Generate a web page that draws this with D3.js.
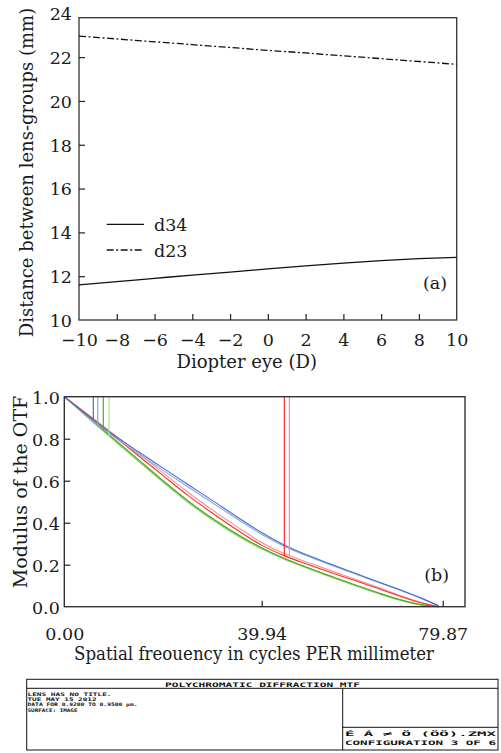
<!DOCTYPE html>
<html>
<head>
<meta charset="utf-8">
<script src="https://cdn.jsdelivr.net/npm/d3@7"></script>
<style>
  html, body { margin: 0; padding: 0; background: #fff; }
  svg { display: block; }
</style>
</head>
<body>
<svg id="chart" width="501" height="753"></svg>
<script>
// ---------------- DATA ----------------
// Panel (a)
const diopter = [-10, -8, -6, -4, -2, 0, 2, 4, 6, 8, 10];
const d34 = [11.60, 11.75, 11.90, 12.05, 12.19, 12.33, 12.47, 12.60, 12.71, 12.80, 12.86];
const d23 = [22.96, 22.83, 22.70, 22.57, 22.44, 22.31, 22.19, 22.06, 21.93, 21.80, 21.67];
const yTicksA = [10, 12, 14, 16, 18, 20, 22, 24];
const xTicksA = [-10, -8, -6, -4, -2, 0, 2, 4, 6, 8, 10];
const legendA = ["d34", "d23"];

// Panel (b) - MTF curves
const freq = [0, 5, 10, 15, 20, 25, 30, 35, 40, 45, 50, 55, 60, 65, 70, 75, 79];
const mtfBlue      = [1.0, 0.905, 0.818, 0.738, 0.660, 0.582, 0.505, 0.427, 0.352, 0.293, 0.246, 0.204, 0.164, 0.124, 0.084, 0.042, 0.004];
const mtfBlueLight = [1.0, 0.900, 0.810, 0.728, 0.649, 0.571, 0.494, 0.418, 0.344, 0.287, 0.241, 0.200, 0.160, 0.121, 0.082, 0.041, 0.004];
const mtfRed       = [1.0, 0.908, 0.814, 0.719, 0.624, 0.530, 0.445, 0.365, 0.292, 0.242, 0.202, 0.164, 0.128, 0.091, 0.053, 0.019, 0.0];
const mtfPink      = [1.0, 0.912, 0.822, 0.730, 0.637, 0.545, 0.460, 0.380, 0.305, 0.252, 0.212, 0.173, 0.135, 0.097, 0.057, 0.021, 0.0];
const mtfGreen     = [1.0, 0.900, 0.800, 0.700, 0.600, 0.505, 0.420, 0.345, 0.280, 0.230, 0.187, 0.147, 0.108, 0.071, 0.036, 0.010, 0.0];
const mtfGreenMid  = [1.0, 0.897, 0.796, 0.696, 0.596, 0.501, 0.416, 0.341, 0.277, 0.228, 0.185, 0.145, 0.106, 0.069, 0.035, 0.009, 0.0];
const mtfGreenLight= [1.0, 0.894, 0.792, 0.691, 0.591, 0.496, 0.411, 0.337, 0.273, 0.224, 0.182, 0.142, 0.104, 0.067, 0.033, 0.008, 0.0];
const seriesColors = ["#3f6fd0", "#8aa6e0", "#ff2a2a", "#f59090", "#4aac25", "#7cc850", "#b2e098"];
// vertical markers: frequency, index of series
const markerFreq   = [5.87, 6.76, 7.89, 9.04, 44.93, 46.04];
const markerSeries = [0, 1, 4, 6, 2, 3];
const xTickValsB = [0, 39.94, 79.87];
const xTickLabB  = ["0.00", "39.94", "79.87"];
const yTicksB = [0, 0.2, 0.4, 0.6, 0.8, 1.0];

// Footer table text
const headerText = "POLYCHROMATIC DIFFRACTION MTF";
const leftLines = ["LENS HAS NO TITLE.", "TUE MAY 15 2012", "DATA FOR 0.9200 TO 0.9500 \u00b5m.", "SURFACE: IMAGE"];
const rightLines = ["\u00c9    \u00c1 \u2260 \u00d6 (\u00d6\u00d6).ZMX", "CONFIGURATION 3 OF 6"];

// ---------------- DRAW ----------------
const svg = d3.select("#chart");
const serif = "'DejaVu Serif', 'Liberation Serif', serif";
const mono = "'DejaVu Sans Mono', 'Liberation Mono', monospace";
svg.append("rect").attr("width", 501).attr("height", 753).attr("fill", "#fff");

// ===== Panel (a) =====
const xA = d3.scaleLinear().domain([-10, 10]).range([79, 456.7]);
const yA = d3.scaleLinear().domain([10, 23.8]).range([320, 17.7]);
const gA = svg.append("g");

gA.append("rect")
  .attr("x", xA(-10)).attr("y", yA(23.8))
  .attr("width", xA(10) - xA(-10)).attr("height", yA(10) - yA(23.8))
  .attr("fill", "none").attr("stroke", "#333").attr("stroke-width", 1.3);

const axAy = gA.append("g").attr("transform", `translate(${xA(-10)},0)`)
  .call(d3.axisLeft(yA).tickValues(yTicksA).tickSize(-6).tickPadding(7).tickFormat(d3.format("d")));
axAy.select(".domain").remove();
axAy.selectAll(".tick line").attr("stroke", "#222").attr("stroke-width", 1.2)
  .filter(d => d === 24 || d === 10).remove();
axAy.selectAll("text").attr("font-family", serif).attr("font-size", 17.5).attr("fill", "#1a1a1a").attr("dy", "0.36em");

const axAx = gA.append("g").attr("transform", `translate(0,${yA(10)})`)
  .call(d3.axisBottom(xA).tickValues(xTicksA).tickSize(-6).tickFormat(d3.format("d")));
axAx.select(".domain").remove();
axAx.selectAll(".tick line").attr("stroke", "#222").attr("stroke-width", 1.2)
  .filter(d => d === -10 || d === 10).remove();
axAx.selectAll("text").attr("font-family", serif).attr("font-size", 17.5).attr("fill", "#1a1a1a")
  .attr("y", 26).attr("dy", "0");

const lineA = d3.line().x((d, i) => xA(diopter[i])).y(d => yA(d)).curve(d3.curveMonotoneX);
gA.append("path").datum(d34).attr("d", lineA).attr("fill", "none")
  .attr("stroke", "#111").attr("stroke-width", 1.3);
gA.append("path").datum(d23).attr("d", lineA).attr("fill", "none")
  .attr("stroke", "#111").attr("stroke-width", 1.3).attr("stroke-dasharray", "7,2.5,2,2.5");

// legend
const legY = [224.3, 250];
legendA.forEach((name, i) => {
  gA.append("line").attr("x1", 106.7).attr("x2", 144).attr("y1", legY[i]).attr("y2", legY[i])
    .attr("stroke", "#111").attr("stroke-width", 1.3)
    .attr("stroke-dasharray", i === 1 ? "7,2.5,2,2.5" : null);
  gA.append("text").attr("x", 154).attr("y", legY[i] + 6.5).text(name)
    .attr("font-family", serif).attr("font-size", 17.5).attr("fill", "#1a1a1a");
});
gA.append("text").attr("x", 447).attr("y", 289).attr("text-anchor", "end").text("(a)")
  .attr("font-family", serif).attr("font-size", 17.5).attr("fill", "#1a1a1a");

gA.append("text").attr("x", 246.7).attr("y", 368).attr("text-anchor", "middle")
  .text("Diopter eye (D)").attr("font-family", serif).attr("font-size", 18).attr("fill", "#1a1a1a");
gA.append("text").attr("transform", "translate(33,172.5) rotate(-90)").attr("text-anchor", "middle")
  .text("Distance between lens-groups (mm)").attr("font-family", serif).attr("font-size", 18).attr("fill", "#1a1a1a");

// ===== Panel (b) =====
const xB = d3.scaleLinear().domain([0, 39.94, 79.87, 84.6]).range([64.3, 261.7, 442.7, 465]);
const yB = d3.scaleLinear().domain([0, 1]).range([606.7, 396.7]);
const gB = svg.append("g");

const allSeries = [mtfBlue, mtfBlueLight, mtfRed, mtfPink, mtfGreen, mtfGreenMid, mtfGreenLight];
const lineB = d3.line().x((d, i) => xB(freq[i])).y(d => yB(d)).curve(d3.curveMonotoneX);
const drawOrder = [6, 5, 4, 3, 2, 1, 0];
drawOrder.forEach(k => {
  gB.append("path").datum(allSeries[k]).attr("d", lineB).attr("fill", "none")
    .attr("stroke", seriesColors[k]).attr("stroke-width", 1.1);
});
function interpSeries(s, f) {
  for (let i = 0; i < freq.length - 1; i++) {
    if (f >= freq[i] && f <= freq[i + 1]) {
      const t = (f - freq[i]) / (freq[i + 1] - freq[i]);
      return s[i] + t * (s[i + 1] - s[i]);
    }
  }
  return 0;
}
markerFreq.forEach((f, i) => {
  const k = markerSeries[i];
  gB.append("line").attr("x1", xB(f)).attr("x2", xB(f))
    .attr("y1", yB(1)).attr("y2", yB(interpSeries(allSeries[k], f)))
    .attr("stroke", seriesColors[k]).attr("stroke-width", 1.2);
});

gB.append("rect")
  .attr("x", xB(0)).attr("y", yB(1))
  .attr("width", xB(84.6) - xB(0)).attr("height", yB(0) - yB(1))
  .attr("fill", "none").attr("stroke", "#333").attr("stroke-width", 1.4);

const axBy = gB.append("g").attr("transform", `translate(${xB(0)},0)`)
  .call(d3.axisLeft(yB).tickValues(yTicksB).tickSize(-6).tickPadding(4.5).tickFormat(d3.format(".1f")));
axBy.select(".domain").remove();
axBy.selectAll(".tick line").attr("stroke", "#222").attr("stroke-width", 1.2)
  .filter(d => d === 0 || d === 1).remove();
axBy.selectAll("text").attr("font-family", serif).attr("font-size", 17.5).attr("fill", "#1a1a1a").attr("dy", "0.36em");

const axBx = gB.append("g").attr("transform", `translate(0,${yB(0)})`)
  .call(d3.axisBottom(xB).tickValues(xTickValsB).tickSize(-6).tickFormat((d, i) => xTickLabB[i]));
axBx.select(".domain").remove();
axBx.selectAll(".tick line").attr("stroke", "#222").attr("stroke-width", 1.2)
  .filter(d => d === 0).remove();
axBx.selectAll("text").attr("font-family", serif).attr("font-size", 17.5).attr("fill", "#1a1a1a")
  .attr("y", 33).attr("dy", "0");

gB.append("text").attr("x", 449).attr("y", 581).attr("text-anchor", "end").text("(b)")
  .attr("font-family", serif).attr("font-size", 17.5).attr("fill", "#1a1a1a");
gB.append("text").attr("x", 254).attr("y", 660).attr("text-anchor", "middle")
  .text("Spatial freouency in cycles PER millimeter").attr("font-family", serif).attr("font-size", 18)
  .attr("textLength", 360).attr("lengthAdjust", "spacingAndGlyphs").attr("fill", "#1a1a1a");
gB.append("text").attr("transform", "translate(27,492) rotate(-90)").attr("text-anchor", "middle")
  .text("Modulus of the OTF").attr("font-family", serif).attr("font-size", 19).attr("fill", "#1a1a1a");

// ===== Footer table =====
const gT = svg.append("g").attr("stroke", "#111").attr("stroke-width", 1).attr("fill", "none");
gT.append("rect").attr("x", 26.7).attr("y", 679.3).attr("width", 498 - 26.7).attr("height", 750 - 679.3);
gT.append("line").attr("x1", 26.7).attr("x2", 498).attr("y1", 688.3).attr("y2", 688.3);
gT.append("line").attr("x1", 342.7).attr("x2", 342.7).attr("y1", 688.3).attr("y2", 750);
gT.append("line").attr("x1", 342.7).attr("x2", 498).attr("y1", 727.3).attr("y2", 727.3);

const gTT = svg.append("g").attr("font-family", mono).attr("fill", "#111").attr("font-weight", "bold");
gTT.append("text").attr("x", 165).attr("y", 687).text(headerText).attr("font-size", 6.2)
  .attr("textLength", 195).attr("lengthAdjust", "spacingAndGlyphs");
const leftLens = [84, 69, 110, 50];
const leftBase = [695.6, 701.0, 706.4, 711.8];
leftLines.forEach((t, i) => {
  gTT.append("text").attr("x", 27.5).attr("y", leftBase[i]).text(t).attr("font-size", 4.7)
    .attr("textLength", leftLens[i]).attr("lengthAdjust", "spacingAndGlyphs");
});
const rightBase = [736, 744.5];
rightLines.forEach((t, i) => {
  gTT.append("text").attr("x", 345).attr("y", rightBase[i]).text(t).attr("font-size", 6.2)
    .attr("textLength", 151).attr("lengthAdjust", "spacingAndGlyphs");
});
</script>
</body>
</html>
